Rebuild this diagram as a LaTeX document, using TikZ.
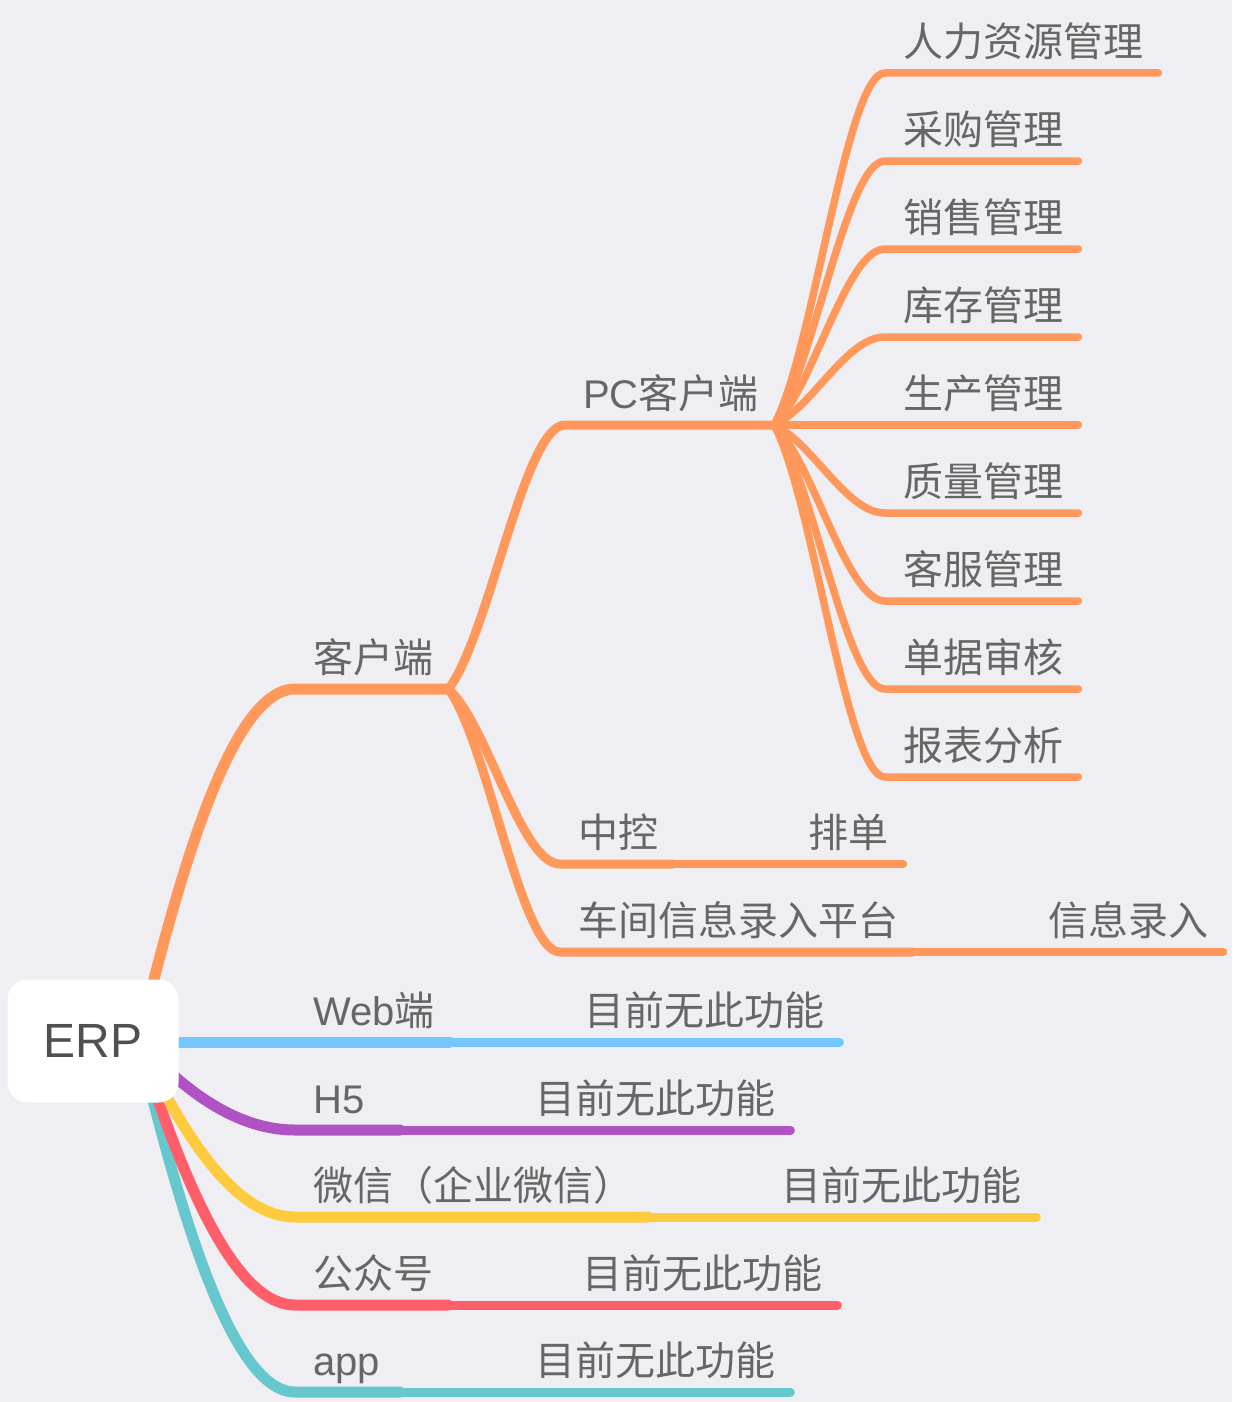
\documentclass[tikz,border=0pt]{standalone}
\usepackage{fontspec}
\setmainfont{Noto Sans CJK SC}
\newfontfamily\lat{Liberation Sans}
\usetikzlibrary{calc}
\definecolor{bg}{RGB}{239,238,243}
\definecolor{oran}{RGB}{255,152,90}
\definecolor{blu}{RGB}{116,198,255}
\definecolor{purp}{RGB}{174,82,196}
\definecolor{yel}{RGB}{255,203,62}
\definecolor{redc}{RGB}{255,94,106}
\definecolor{tealc}{RGB}{102,200,204}
\definecolor{txt}{RGB}{102,102,102}
\definecolor{erptxt}{RGB}{80,80,80}
\newcommand\lwbox[1]{\makebox[72pt][l]{#1}}
% root-level branch
\newcommand\brA[3]{\draw[#1] let \p1=(#2), \p2=(#3.south west) in (\p1) .. controls ({\x1+0.2*(\x2-\x1)},{\y1+0.35*(\y2-\y1)}) and ({\x1+0.55*(\x2-\x1)},\y2) .. (\p2) -- (#3.south east);}
% inner branch
\newcommand\brB[3]{\draw[#1] let \p1=(#2), \p2=(#3.south west) in (\p1) .. controls ({\x1+0.35*(\x2-\x1)},{\y1+0.2*(\y2-\y1)}) and ({\x1+0.65*(\x2-\x1)},\y2) .. (\p2) -- (#3.south east);}
\begin{document}
\begin{tikzpicture}[x=1pt,y=-1pt,line cap=round,line join=round,
  topic/.style={anchor=south west,inner xsep=15pt,inner ysep=16pt,text depth=0pt,text=txt,font=\fontsize{40}{48}\selectfont,execute at begin node=\hspace*{3pt}},
  wa/.style={line width=11pt},
  wb/.style={line width=9pt},
  wc/.style={line width=7.5pt}]
\useasboundingbox (0,0) rectangle (1232,1402);
\fill[bg] (0,0) rectangle (1232,1402);
\coordinate (erpo) at (138,1042);
% topics
\node[topic] (kehu) at (295,689) {客户端};
\node[topic] (pc) at (565,425) {{\lat PC}客户端};
\node[topic] (hr) at (885,73) {人力资源管理};
\node[topic] (cg) at (885,161) {采购管理};
\node[topic] (xs) at (885,249) {销售管理};
\node[topic] (kc) at (885,337) {库存管理};
\node[topic] (sc) at (885,425) {生产管理};
\node[topic] (zl) at (885,513) {质量管理};
\node[topic] (kf) at (885,601) {客服管理};
\node[topic] (dj) at (885,689) {单据审核};
\node[topic] (bb) at (885,777) {报表分析};
\node[topic] (zk) at (560,864) {中控};
\node[topic] (pd) at (790,864) {排单};
\node[topic] (cj) at (560,952) {车间信息录入平台};
\node[topic] (lr) at (1030,952) {信息录入};
\node[topic] (web) at (295,1042) {{\lat Web}端};
\node[topic] (m1) at (566,1042) {目前无此功能};
\node[topic] (h5) at (295,1130) {\lwbox{\lat H5}};
\node[topic] (m2) at (517,1130) {目前无此功能};
\node[topic] (wx) at (295,1217) {微信（企业微信）};
\node[topic] (m3) at (763,1217) {目前无此功能};
\node[topic] (gzh) at (295,1305) {公众号};
\node[topic] (m4) at (564,1305) {目前无此功能};
\node[topic] (app) at (295,1392) {\lwbox{\lat app}};
\node[topic] (m5) at (517,1392) {目前无此功能};
% root branches
\brA{tealc,wa}{erpo}{app}
\brA{redc,wa}{erpo}{gzh}
\brA{yel,wa}{erpo}{wx}
\brA{purp,wa}{erpo}{h5}
\brA{blu,wa}{erpo}{web}
\brA{oran,wa}{erpo}{kehu}
% second level
\brB{oran,wb}{kehu.south east}{pc}
\brB{oran,wb}{kehu.south east}{zk}
\brB{oran,wb}{kehu.south east}{cj}
\brB{blu,wb}{web.south east}{m1}
\brB{purp,wb}{h5.south east}{m2}
\brB{yel,wb}{wx.south east}{m3}
\brB{redc,wb}{gzh.south east}{m4}
\brB{tealc,wb}{app.south east}{m5}
% third level
\brB{oran,wc}{pc.south east}{hr}
\brB{oran,wc}{pc.south east}{cg}
\brB{oran,wc}{pc.south east}{xs}
\brB{oran,wc}{pc.south east}{kc}
\brB{oran,wc}{pc.south east}{sc}
\brB{oran,wc}{pc.south east}{zl}
\brB{oran,wc}{pc.south east}{kf}
\brB{oran,wc}{pc.south east}{dj}
\brB{oran,wc}{pc.south east}{bb}
\brB{oran,wc}{zk.south east}{pd}
\brB{oran,wc}{cj.south east}{lr}
% root
\node[fill=white,rounded corners=20pt,minimum width=171pt,minimum height=123pt,inner sep=0pt,text=erptxt,font=\lat\fontsize{48}{56}\selectfont] (erp) at (93,1041) {ERP};
\end{tikzpicture}
\end{document}
